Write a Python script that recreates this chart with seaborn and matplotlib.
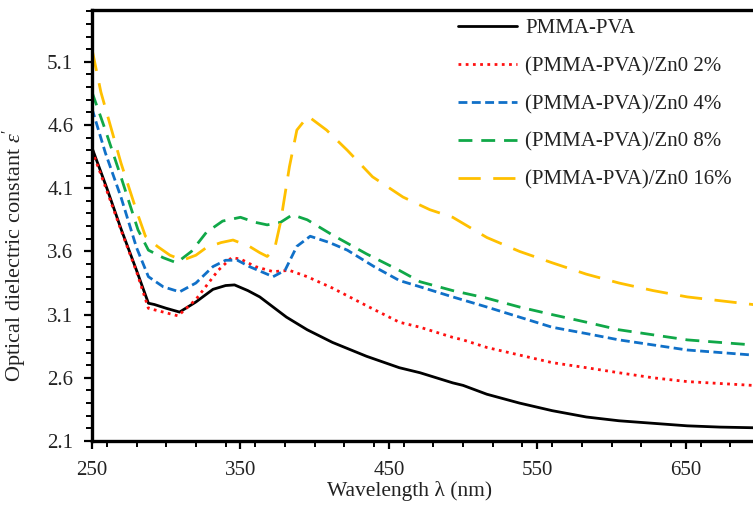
import numpy as np
import pandas as pd
import matplotlib
matplotlib.use("Agg")
import matplotlib.pyplot as plt
from matplotlib.ticker import MultipleLocator, FixedLocator
from matplotlib.lines import Line2D
import seaborn as sns

# ---- data ----
x_pure = [250, 260, 269.5, 280, 288, 292, 300, 309, 320, 331.5, 340, 346, 355, 363, 372, 381,
          395, 412, 435, 457, 471, 493, 500, 516, 538, 560, 583, 605, 628, 651, 673, 695, 700]
y_pure = [4.42, 4.10, 3.78, 3.45, 3.19, 3.18, 3.15, 3.12, 3.20, 3.30, 3.33, 3.335, 3.29, 3.24, 3.16, 3.08,
          2.98, 2.88, 2.77, 2.68, 2.64, 2.56, 2.54, 2.47, 2.40, 2.34, 2.29, 2.26, 2.24, 2.22, 2.21, 2.205, 2.205]

x_2 = [250, 260, 269.5, 280, 288, 298, 308, 320, 335, 344, 350, 360, 372, 383, 395, 412, 435, 457,
       471, 493, 500, 516, 538, 560, 583, 605, 628, 651, 673, 695, 700]
y_2 = [4.40, 4.08, 3.77, 3.44, 3.15, 3.12, 3.09, 3.22, 3.45, 3.55, 3.54, 3.48, 3.44, 3.45, 3.40, 3.31, 3.17, 3.04,
       3.00, 2.92, 2.90, 2.84, 2.78, 2.72, 2.68, 2.64, 2.60, 2.57, 2.555, 2.54, 2.54]

x_4 = [250, 259, 269.5, 280, 288, 298, 309, 320, 331.5, 340, 348, 356, 364, 372, 380, 388, 397, 410,
       422, 440, 457, 471, 493, 516, 538, 560, 583, 605, 628, 651, 673, 695, 700]
y_4 = [4.73, 4.38, 4.03, 3.63, 3.40, 3.32, 3.28, 3.35, 3.48, 3.53, 3.53, 3.48, 3.44, 3.40, 3.45, 3.64, 3.72, 3.67,
       3.61, 3.48, 3.37, 3.32, 3.24, 3.16, 3.08, 3.00, 2.95, 2.90, 2.86, 2.82, 2.80, 2.78, 2.775]

x_8 = [250, 259, 269.5, 281, 288, 298, 307, 317, 327, 338, 350, 360, 368, 377, 385, 395, 412, 435,
       457, 471, 493, 516, 538, 560, 583, 605, 628, 651, 673, 695, 700]
y_8 = [4.86, 4.56, 4.19, 3.77, 3.61, 3.55, 3.51, 3.60, 3.75, 3.84, 3.87, 3.83, 3.81, 3.83, 3.89, 3.85, 3.73, 3.58,
       3.45, 3.36, 3.29, 3.23, 3.16, 3.10, 3.04, 2.98, 2.94, 2.90, 2.88, 2.86, 2.855]

x_16 = [250, 256, 269.5, 280, 286, 294, 302.5, 311, 320, 327, 337, 345, 356, 363, 368, 373, 377, 383,
        388, 395.5, 408, 422, 439, 459.5, 477.6, 493, 516, 538, 560, 583, 605, 628, 651, 673, 695, 700]
y_16 = [5.20, 4.86, 4.30, 3.92, 3.72, 3.64, 3.57, 3.53, 3.57, 3.63, 3.67, 3.69, 3.64, 3.59, 3.56, 3.62, 3.83, 4.27,
        4.56, 4.67, 4.56, 4.40, 4.19, 4.03, 3.93, 3.87, 3.71, 3.60, 3.51, 3.42, 3.35, 3.29, 3.24, 3.21, 3.18, 3.17]

labels = ["PMMA-PVA", "(PMMA-PVA)/Zn0 2%", "(PMMA-PVA)/Zn0 4%",
          "(PMMA-PVA)/Zn0 8%", "(PMMA-PVA)/Zn0 16%"]
xticks = [250, 350, 450, 550, 650]
yticks = [2.1, 2.6, 3.1, 3.6, 4.1, 4.6, 5.1]

series = [(x_pure, y_pure), (x_2, y_2), (x_4, y_4), (x_8, y_8), (x_16, y_16)]
frames = [pd.DataFrame({"wl": xs, "eps": ys, "sample": lab})
          for (xs, ys), lab in zip(series, labels)]
df = pd.concat(frames, ignore_index=True)

# ---- style ----
sns.set_theme(style="ticks")
plt.rcParams["font.family"] = ["Liberation Serif", "DejaVu Serif"]
plt.rcParams["mathtext.fontset"] = "custom"
plt.rcParams["mathtext.rm"] = "Liberation Serif"
plt.rcParams["mathtext.it"] = "Liberation Serif:italic"

colors = ["#000000", "#FF1010", "#1070C8", "#10A848", "#FFC000"]
dash_styles = [(None, None), (1, 1.6), (3.2, 1.6), (5.0, 3.2), (8.0, 4.5)]
palette = dict(zip(labels, colors))
text_col = "#222222"

fig = plt.figure(figsize=(7.53, 5.09), dpi=100)
ax = fig.add_axes([92 / 753, 68 / 509, 668 / 753, 431 / 509])

sns.lineplot(data=df, x="wl", y="eps", hue="sample", hue_order=labels,
             palette=palette, sort=False, estimator=None, ax=ax,
             linewidth=2.0, legend=False)

for line, d in zip(ax.lines, dash_styles):
    if d[0] is not None:
        line.set_dashes(d)

ax.set_xlim(250, 700)
ax.set_ylim(2.1, 5.51)
ax.xaxis.set_major_locator(FixedLocator(xticks))
ax.xaxis.set_minor_locator(MultipleLocator(20))
ax.yaxis.set_major_locator(FixedLocator(yticks))
ax.yaxis.set_minor_locator(MultipleLocator(0.1))
ax.set_xticklabels([str(v) for v in xticks])
ax.set_yticklabels([f"{v:.1f}" for v in yticks])

ax.tick_params(axis="both", which="major", direction="out", length=5.5, width=1.6,
               color="black", labelsize=15, labelcolor=text_col)
ax.tick_params(axis="x", which="major", pad=9)
ax.tick_params(axis="y", which="major", pad=8)
ax.tick_params(axis="both", which="minor", direction="out", length=4, width=1.4, color="black")
for side in ["left", "bottom", "top", "right"]:
    ax.spines[side].set_linewidth(2.4)
    ax.spines[side].set_color("black")

ax.set_xlabel("Wavelength λ (nm)", fontsize=15.5, color=text_col)
ax.xaxis.set_label_coords(0.476, -0.116)
ax.xaxis.label.set_va("center")
ax.set_ylabel(r"Optical dielectric constant $\varepsilon'$", fontsize=16, color=text_col)
ax.yaxis.set_label_coords(-0.116, 0.43)
ax.yaxis.label.set_va("center")

handles = []
for c, d in zip(colors, dash_styles):
    h = Line2D([0], [0], color=c, linewidth=2.0)
    if d[0] is not None:
        h.set_dashes(d)
    handles.append(h)
ax.legend(handles, labels, loc="upper left", bbox_to_anchor=(0.548, 0.98),
          frameon=False, fontsize=15, handlelength=2.85, handletextpad=0.38,
          labelspacing=0.88, borderaxespad=0, borderpad=0, labelcolor=text_col)

fig.savefig("out.png", dpi=100)
